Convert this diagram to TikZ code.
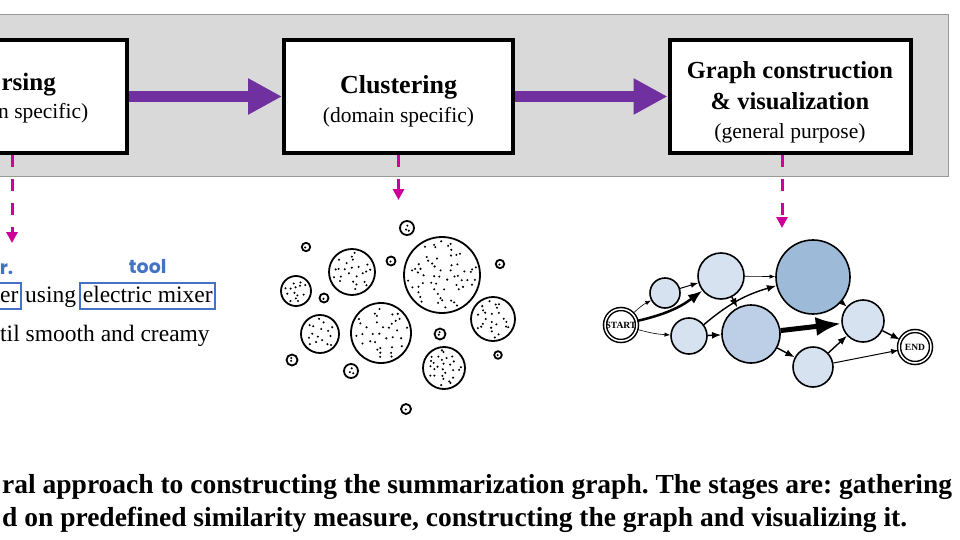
\documentclass[tikz,border=0pt]{standalone}
\usepackage{fontspec}
\setmainfont{Liberation Serif}
\newfontfamily\tagfont{Poppins}
\usepackage{tikz}
\usetikzlibrary{arrows.meta,positioning}
\frenchspacing

\definecolor{flowpurple}{RGB}{112,48,160}
\definecolor{probemag}{RGB}{204,0,153}
\definecolor{tagblue}{RGB}{68,114,196}
\definecolor{panelgray}{RGB}{217,217,217}
\definecolor{lightnode}{RGB}{214,226,240}
\definecolor{midnode}{RGB}{188,207,230}
\definecolor{darknode}{RGB}{157,186,217}

\begin{document}
\begin{tikzpicture}[x=1pt,y=-1pt,
  stage/.style={draw,line width=4pt,fill=white,minimum width=229pt,minimum height=113pt,inner sep=0pt},
  stagetxt/.style={align=center,inner sep=0pt,font=\fontsize{21.5}{29}\selectfont},
  flow/.style={line width=11pt,flowpurple,-{Triangle[length=34pt,width=34pt]}},
  probe/.style={line width=3pt,probemag,dash pattern=on 12pt off 12pt,-{Triangle[length=11pt,width=11pt]}},
  word/.style={inner xsep=2.5pt,inner ysep=2pt,text height=17pt,text depth=5pt,font=\fontsize{23.5}{28}\selectfont},
  tagbox/.style={word,draw=tagblue,line width=2pt},
  tag/.style={tagblue,inner sep=0pt,font=\tagfont\bfseries\fontsize{19}{22}\selectfont},
  blob/.style={line width=1.8pt},
  gnode/.style={circle,draw,line width=1.6pt,inner sep=0pt,fill=lightnode},
  term/.style={circle,draw,double,double distance=1.5pt,line width=1.5pt,fill=white,inner sep=0pt,
    minimum size=32pt,font=\bfseries\fontsize{9.5}{10}\selectfont},
  edge/.style={-{Latex}}]
\useasboundingbox (0,0) rectangle (960,540);

% pipeline panel
\fill[panelgray,draw=gray!80,line width=1pt] (-10,15) rectangle (948,177);
\node[stage] (parse) at (12,96.5) {};
\node[stage] (clust) at (398.5,96.5) {};
\node[stage,minimum width=241pt] (graph) at (790,96.5) {};
\node[stagetxt,anchor=east,font=\bfseries\fontsize{25}{29}\selectfont] (parsetxt) at (56,85) {rsing};
\node[stagetxt,anchor=east] (parsesub) at (88.5,113) {n specific)};
\node[stagetxt] (clusttxt) at ([yshift=-4.5pt]clust.center)
  {{\bfseries\fontsize{26}{29}\selectfont Clustering}\\(domain specific)};
\node[stagetxt] (graphtxt) at ([yshift=-5.5pt]graph.center)
  {{\bfseries\fontsize{24.5}{30}\selectfont Graph construction}\\[2pt]
   {\bfseries\fontsize{24.5}{30}\selectfont \& visualization}\\(general purpose)};

\draw[flow] (parse) -- (clust);
\draw[flow] (clust) -- (graph);

\coordinate (p1) at (12,243);
\coordinate (p2) at (398.5,200);
\coordinate (p3) at (782,228);
\draw[probe] (parse.south) -- (p1);
\draw[probe] (clust.south) -- (p2);
\draw[probe] (graph.south -| p3) -- (p3);

% parsed sentence
\node[tagbox,anchor=east,text width=40pt,align=right] (er) at (22,296) {er};
\node[word,right=0.5pt of er] (using) {using};
\node[tagbox,right=0.5pt of using] (mixer) {electric mixer};
\node[tag,above=8pt of mixer] (tool) {tool};
\node[tag,anchor=base east] (agent) at (13.5,274) {r.};
\node[word,anchor=base west,inner sep=0pt] (rest) at (0,341) {til smooth and creamy};

% clusters
\pgfmathsetseed{5}
\foreach \cx/\cy/\r/\n in {442/275/38/60,381/333/30/34,352/272/23/24,296/291/15/14,
    320/334/19/16,493/319/22/24,444/368/21/28,306/247/4.2/1,407/228/7/3,391/261/4.5/1,
    324/298/4.5/1,500/264/4.2/1,440/334/5.5/2,292/360/5.5/2,351/371/7/3,498/355/3.8/1,406/409/5/1}{
  \draw[blob] (\cx,\cy) circle (\r);
  \foreach \k in {1,...,\n}{
    \pgfmathsetmacro\ang{137.5*\k+25*rand}
    \pgfmathsetmacro\dst{(\r-3.2)*sqrt((\k-0.5+0.4*rand)/\n)}
    \fill (\cx,\cy) ++(\ang:\dst) circle (1.15pt);
  }
}

% summarization graph
\node[term] (st) at (621,325) {START};
\node[gnode,minimum size=30pt] (a) at (665,293) {};
\node[gnode,minimum size=46pt] (b) at (721,276) {};
\node[gnode,minimum size=36pt] (c) at (689,336) {};
\node[gnode,minimum size=74pt,fill=darknode] (d) at (813,277) {};
\node[gnode,minimum size=58pt,fill=midnode] (e) at (751,334) {};
\node[gnode,minimum size=42pt] (f) at (863,321) {};
\node[gnode,minimum size=40pt] (g) at (813,367) {};
\node[term] (en) at (915,347) {END};

\draw[edge,line width=0.6pt] (st) to[bend left=8] (a);
\draw[edge,line width=2.5pt] (st) to[bend right=12] (b);
\draw[edge,line width=0.6pt] (st) to[bend right=6] (c);
\draw[edge,line width=1pt] (a) -- (b);
\draw[edge,line width=0.6pt] (b) -- (d);
\draw[edge,line width=1.4pt] (c) to[bend left=12] (d);
\draw[edge,line width=1.4pt] (c) -- (e);
\draw[edge,line width=1.4pt] (b) -- (e);
\draw[edge,line width=1pt] (d) -- (f);
\draw[edge,line width=5pt] (e) -- (f);
\draw[edge,line width=1.4pt] (e) -- (g);
\draw[edge,line width=1.4pt] (g) -- (f);
\draw[edge,line width=1.4pt] (f) -- (en);
\draw[edge,line width=1pt] (g) -- (en);

% caption
\node[anchor=base west,inner sep=0pt,font=\bfseries\fontsize{27.5}{33}\selectfont,align=left] (cap) at (2,526)
  {ral approach to constructing the summarization graph. The stages are: gathering\\
   d on predefined similarity measure, constructing the graph and visualizing it.};
\end{tikzpicture}
\end{document}
